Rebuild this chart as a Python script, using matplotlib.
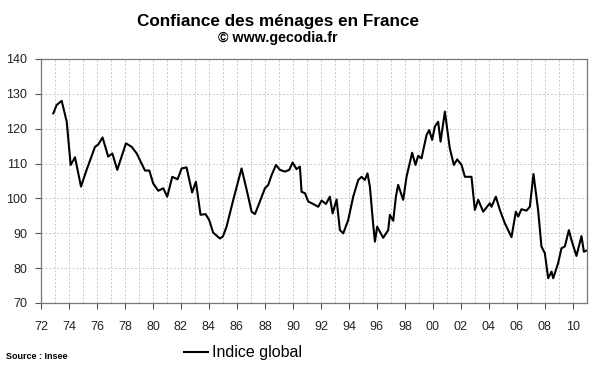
import matplotlib
matplotlib.use("Agg")
import matplotlib.pyplot as plt
from matplotlib.ticker import MultipleLocator, FuncFormatter

# Indice de confiance des ménages (Insee)
years = [1972.88, 1973.12, 1973.48, 1973.84, 1974.12, 1974.43, 1974.86, 1975.26,
         1975.86, 1976.1, 1976.4, 1976.8, 1977.1, 1977.45, 1978.07, 1978.48,
         1978.84, 1979.43, 1979.74, 1980.02, 1980.38, 1980.74, 1981.02, 1981.38,
         1981.76, 1982.05, 1982.4, 1982.8, 1983.07, 1983.4, 1983.76, 1984.02,
         1984.3, 1984.79, 1985.0, 1985.26, 1985.74, 1986.33, 1986.7, 1987.05,
         1987.29, 1987.64, 1988.0, 1988.24, 1988.48, 1988.79, 1989.07, 1989.43,
         1989.74, 1989.98, 1990.26, 1990.5, 1990.62, 1990.86, 1991.1, 1991.45,
         1991.81, 1992.05, 1992.36, 1992.64, 1992.84, 1993.12, 1993.36, 1993.6,
         1993.95, 1994.31, 1994.67, 1994.9, 1995.14, 1995.33, 1995.5, 1995.74,
         1995.86, 1996.02, 1996.45, 1996.81, 1996.93, 1997.17, 1997.36, 1997.52,
         1997.88, 1998.12, 1998.52, 1998.76, 1998.95, 1999.19, 1999.55, 1999.74,
         1999.95, 2000.14, 2000.38, 2000.55, 2000.86, 2001.21, 2001.5, 2001.74,
         2002.05, 2002.29, 2002.76, 2003.0, 2003.24, 2003.6, 2004.07, 2004.19,
         2004.5, 2004.79, 2005.14, 2005.62, 2005.93, 2006.1, 2006.33, 2006.69,
         2006.93, 2007.19, 2007.52, 2007.76, 2008.0, 2008.24, 2008.48, 2008.6,
         2008.95, 2009.19, 2009.43, 2009.72, 2009.9, 2010.26, 2010.62, 2010.79,
         2010.95]
indice = [124.4, 126.8, 128.0, 122.0, 109.6, 111.8, 103.4, 108.2,
          114.8, 115.5, 117.5, 112.0, 112.9, 108.2, 115.8, 114.8,
          112.9, 108.0, 108.0, 104.3, 102.2, 102.9, 100.5, 106.2,
          105.5, 108.6, 108.9, 101.7, 104.8, 95.3, 95.5, 93.8,
          90.2, 88.5, 89.1, 91.9, 99.6, 108.6, 102.4, 96.2,
          95.5, 99.1, 102.9, 103.9, 106.7, 109.6, 108.2, 107.7,
          108.2, 110.3, 108.4, 109.1, 101.9, 101.5, 99.1, 98.4,
          97.6, 99.4, 98.4, 100.5, 95.7, 99.7, 90.9, 90.0,
          93.8, 100.5, 105.3, 106.2, 105.3, 107.2, 103.4, 92.4,
          87.6, 91.9, 88.7, 90.9, 95.3, 93.6, 100.5, 103.9,
          99.6, 106.2, 113.1, 109.6, 112.2, 111.5, 118.2, 119.6,
          116.8, 120.6, 122.0, 116.3, 124.9, 114.4, 109.6, 111.2,
          109.6, 106.2, 106.2, 96.7, 99.6, 96.2, 98.6, 97.6,
          100.5, 96.7, 92.9, 88.9, 96.2, 94.8, 96.9, 96.5,
          97.6, 107.0, 96.7, 86.2, 84.3, 77.1, 79.0, 77.1,
          81.4, 85.7, 86.2, 90.9, 88.1, 83.5, 89.2, 84.7,
          85.0]

plt.rcParams['font.family'] = ['Liberation Sans', 'DejaVu Sans']

fig = plt.figure(figsize=(6, 3.72), dpi=100)
ax = fig.add_axes([0.0683, 0.1855, 0.9097, 0.6559])

line, = ax.plot(years, indice, color='black', linewidth=1.5, label='Indice global')

ax.set_xlim(1972, 2011)
ax.set_ylim(70, 140)
ax.xaxis.set_major_locator(MultipleLocator(2))
ax.xaxis.set_minor_locator(MultipleLocator(1))
ax.yaxis.set_major_locator(MultipleLocator(10))
ax.xaxis.set_major_formatter(FuncFormatter(lambda v, p: f"{int(round(v)) % 100:02d}"))

ax.grid(which='both', axis='x', color='#c8c8c8', linestyle=(0, (2, 2)), linewidth=0.7)
ax.grid(which='major', axis='y', color='#c8c8c8', linestyle=(0, (2, 2)), linewidth=0.7)
ax.tick_params(axis='x', which='minor', length=0)
ax.tick_params(axis='both', which='major', direction='out', length=4,
               width=0.8, color='#555555', labelsize=9, labelcolor='#222222')
ax.tick_params(axis='x', which='major', pad=9)
ax.tick_params(axis='y', which='major', pad=6)
for s in ax.spines.values():
    s.set_color('#777777')
    s.set_linewidth(0.9)

fig.text(0.463, 0.942, 'Confiance des ménages en France', ha='center', va='center',
         fontsize=12.3, fontweight='bold')
fig.text(0.463, 0.897, '© www.gecodia.fr', ha='center', va='center',
         fontsize=10.3, fontweight='bold')
fig.text(0.01, 0.043, 'Source : Insee', ha='left', va='center', fontsize=6.5, fontweight='bold')

fig.legend(handles=[line], loc='center', bbox_to_anchor=(0.405, 0.052), frameon=False,
           fontsize=11.5, handlelength=1.5, handletextpad=0.3)

fig.savefig('out.png', dpi=100)
